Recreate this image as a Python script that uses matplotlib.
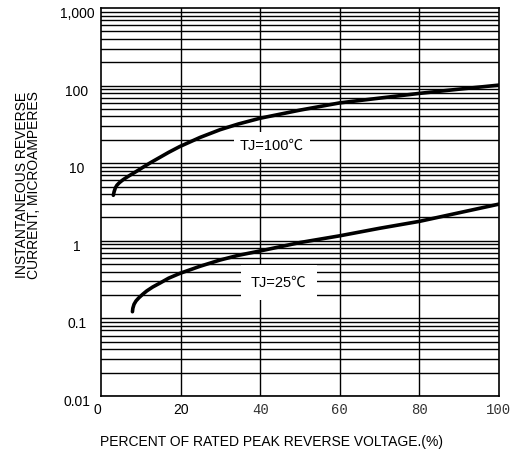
import matplotlib.pyplot as plt
import matplotlib.transforms as mtransforms

# percent of rated peak reverse voltage vs instantaneous reverse current (uA)
v_100 = [3.1, 3.3, 3.6, 4.0, 4.6, 5.5, 6.5, 7.3, 9.0, 10.6, 12.5, 14.8, 17, 19.8, 24.9, 29.9, 34.5, 40, 50, 60, 70, 80, 90, 100]
i_100 = [3.86, 4.3, 4.8, 5.2, 5.6, 6.1, 6.6, 7.0, 7.9, 8.9, 10.2, 11.9, 13.8, 16.4, 21.5, 27.0, 32.0, 38, 48.3, 59.9, 69, 79.4, 90, 101.5]

v_25 = [7.9, 8.0, 8.3, 8.8, 9.5, 10.5, 11.5, 13.0, 14.8, 17, 19.8, 24.9, 29.9, 34.5, 40, 50, 60, 70, 80, 90, 100]
i_25 = [0.122, 0.135, 0.152, 0.168, 0.184, 0.205, 0.226, 0.254, 0.285, 0.33, 0.38, 0.47, 0.565, 0.65, 0.74, 0.95, 1.16, 1.45, 1.78, 2.3, 2.97]

y_ticks = [0.01, 0.1, 1, 10, 100, 1000]
y_labels = ['0.01', '0.1', '1', '10', '100', '1,000']
x_ticks = [0, 20, 40, 60, 80, 100]

sans = ['Liberation Sans', 'Noto Sans CJK SC', 'DejaVu Sans']

fig = plt.figure(figsize=(5.2, 4.53), dpi=100)
ax = fig.add_axes([101/520, 57/453, 398/520, 388/453])

ax.set_xlim(0, 100)
ax.set_yscale('log')
ax.set_ylim(0.01, 1000)

# grid
for xv in x_ticks[1:-1]:
    ax.axvline(xv, color='black', lw=1.0, zorder=1)
for dec in [0.01, 0.1, 1, 10, 100]:
    for k in range(1, 10):
        ax.axhline(dec * k, color='black', lw=1.0, zorder=1)

ax.plot(v_100, i_100, color='black', lw=2.6, solid_joinstyle='round', solid_capstyle='round', zorder=3)
ax.plot(v_25, i_25, color='black', lw=2.6, solid_joinstyle='round', solid_capstyle='round', zorder=3)

ax.text(43, 16.8, 'TJ=100\u2103', fontsize=10.5, family=sans, ha='center', va='center',
        bbox=dict(facecolor='white', edgecolor='none', pad=4.5), zorder=4)
ax.text(44.7, 0.29, 'TJ=25\u2103', fontsize=10.5, family=sans, ha='center', va='center',
        bbox=dict(facecolor='white', edgecolor='none', pad=7.5), zorder=4)

for s in ax.spines.values():
    s.set_linewidth(1.2)

ax.set_xticks([])
ax.set_yticks([])
ax.minorticks_off()

off = mtransforms.ScaledTranslation(-24/100, -6/100, fig.dpi_scale_trans)
for yv, lab in zip(y_ticks, y_labels):
    ax.text(0, yv, lab, transform=ax.get_yaxis_transform() + off, ha='center', va='center',
            fontsize=10, family=sans)

for xv in x_ticks:
    dx = -4/100 if xv == 0 else 0
    xoff = mtransforms.ScaledTranslation(dx, -14/100, fig.dpi_scale_trans)
    if xv < 40:
        ax.text(xv, 0, str(xv), transform=ax.get_xaxis_transform() + xoff, ha='center', va='center',
                fontsize=10, family=sans)
    else:
        ax.text(xv, 0, str(xv), transform=ax.get_xaxis_transform() + xoff, ha='center', va='center',
                fontsize=10, family='Liberation Mono', color='#333333')

fig.text(271/520, 1 - 442/453, 'PERCENT OF RATED PEAK REVERSE VOLTAGE.(%)', ha='center', va='center',
         fontsize=10, family=sans)
fig.text(28/520, 1 - 185/453, 'INSTANTANEOUS REVERSE\nCURRENT, MICROAMPERES', ha='center', va='center',
         rotation=90, fontsize=10, family=sans, linespacing=0.9)

fig.savefig('out.png', dpi=100)
